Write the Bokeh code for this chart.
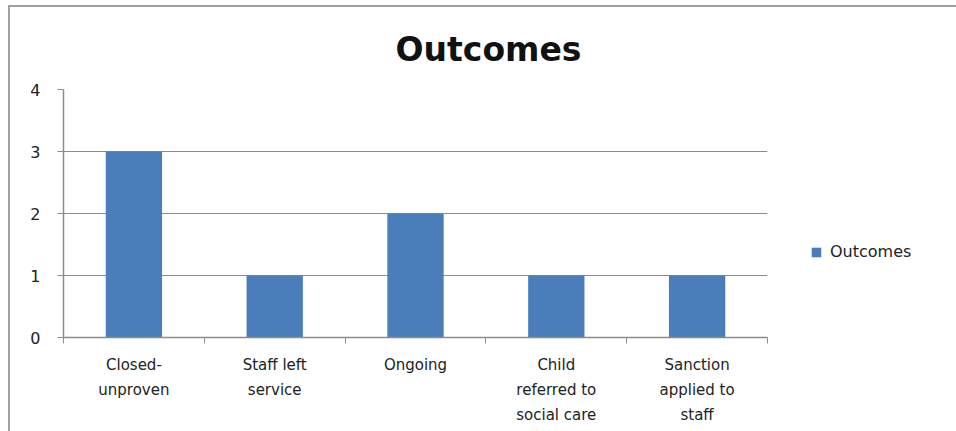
from bokeh.plotting import figure
from bokeh.models import Range1d, FixedTicker, Legend, LegendItem, ColumnDataSource
from bokeh.embed import file_html
from bokeh.resources import INLINE

# Outcome categories and counts
categories = ["Closed-\nunproven", "Staff left\nservice", "Ongoing",
              "Child\nreferred to\nsocial care", "Sanction\napplied to\nstaff"]
counts = [3, 1, 2, 1, 1]
series_name = "Outcomes"
y_ticks = [0, 1, 2, 3, 4]

BAR_COLOR = "#4a7ebb"
GRID_COLOR = "#8c8c8c"
FONT = "DejaVu Sans"

centers = [i + 0.5 for i in range(len(categories))]
bounds = [float(i) for i in range(len(categories) + 1)]

source = ColumnDataSource(data=dict(x=centers, top=counts))

p = figure(frame_width=704, frame_height=248, output_backend="svg", toolbar_location=None,
           x_range=Range1d(0, len(categories)), y_range=Range1d(0, 4),
           min_border_left=53, min_border_right=189, min_border_top=82,
           min_border_bottom=94, title=series_name)
p.margin = (5, 0, 0, 8)
p.styles = {"border-top": "2px solid #a0a0a0", "border-left": "2px solid #a0a0a0"}
p.outline_line_color = None
p.background_fill_color = "white"
p.border_fill_color = "white"

# chart title, centred over the whole chart rather than the plot frame
p.title.align = "left"
p.title.offset = 332
p.title.standoff = 41
p.title.text_font = FONT
p.title.text_font_style = "bold"
p.title.text_font_size = "33px"
p.title.text_color = "#111111"

r = p.vbar(x="x", top="top", width=0.4, bottom=0, source=source,
           fill_color=BAR_COLOR, line_color=None)

# x axis: labels at category centres, tick marks between categories
xa = p.xaxis[0]
xa.ticker = FixedTicker(ticks=centers, minor_ticks=bounds)
xa.major_label_overrides = {c: lab for c, lab in zip(centers, categories)}
xa.major_tick_out = 0
xa.major_tick_in = 0
xa.minor_tick_out = 6
xa.minor_tick_in = 0
xa.minor_tick_line_color = GRID_COLOR
xa.axis_line_color = GRID_COLOR
xa.axis_line_width = 1.5
xa.major_label_text_font = FONT
xa.major_label_text_font_size = "15px"
xa.major_label_text_color = "#222222"
xa.major_label_text_line_height = 1.4
xa.major_label_standoff = 12

ya = p.yaxis[0]
ya.ticker = FixedTicker(ticks=y_ticks, minor_ticks=[])
ya.major_tick_out = 6
ya.major_tick_in = 0
ya.major_tick_line_color = GRID_COLOR
ya.axis_line_color = GRID_COLOR
ya.axis_line_width = 1.5
ya.major_label_text_font = FONT
ya.major_label_text_font_size = "16px"
ya.major_label_text_color = "#222222"
ya.major_label_standoff = 17

p.xgrid.grid_line_color = None
p.ygrid.ticker = FixedTicker(ticks=y_ticks)
p.ygrid.grid_line_color = GRID_COLOR
p.ygrid.grid_line_width = 1.2

legend = Legend(items=[LegendItem(label=series_name, renderers=[r])],
                location=(43, 76), border_line_color=None,
                background_fill_alpha=0, glyph_width=12, glyph_height=12,
                label_height=12, padding=0, margin=0,
                label_text_font=FONT, label_text_font_size="16px",
                label_text_color="#222222", label_standoff=8)
p.add_layout(legend, "right")

open("out.html", "w").write(file_html(p, INLINE))
